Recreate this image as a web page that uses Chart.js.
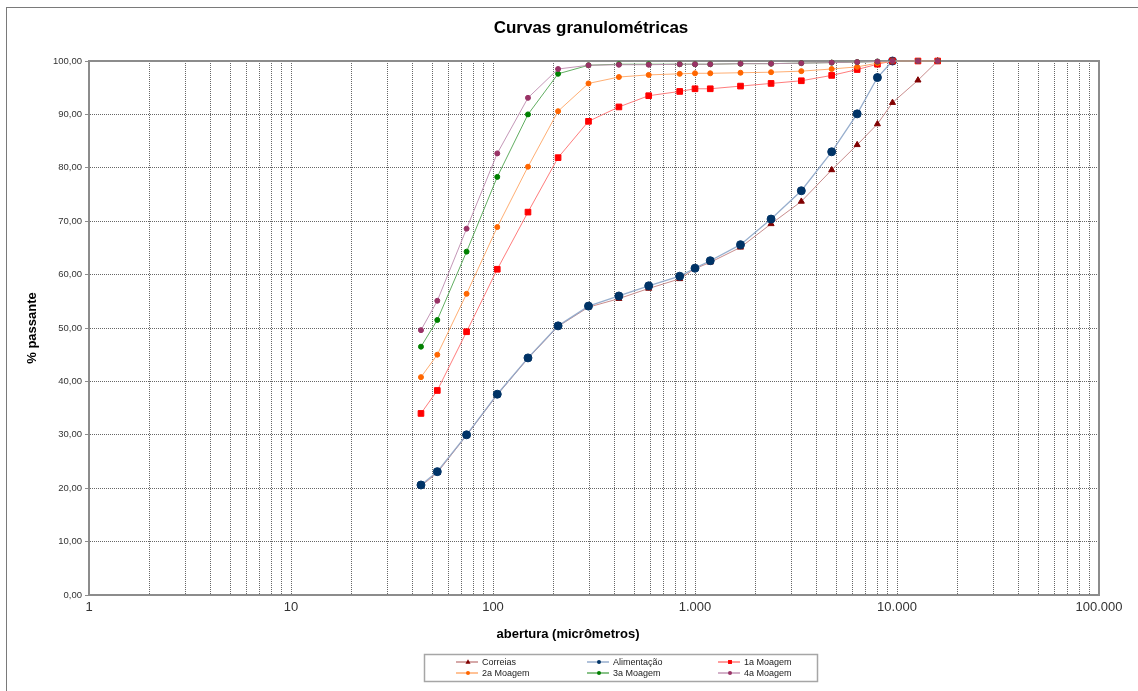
<!DOCTYPE html>
<html>
<head>
<meta charset="utf-8">
<script src="https://cdn.jsdelivr.net/npm/chart.js@4/dist/chart.umd.min.js"></script>
<style>
  html, body { margin: 0; padding: 0; background: #fff; }
  canvas { display: block; }
</style>
</head>
<body>
<canvas id="chart" width="1138" height="691"></canvas>
<script>
// aberturas das peneiras (micrômetros)
var aberturas = [44, 53, 74, 105, 149, 210, 297, 420, 590, 840, 1000, 1190, 1680, 2380, 3360, 4750, 6350, 8000, 9500, 12700, 15900];

// % passante de cada amostra
var correias    = [20.4, 22.9, 29.9, 37.5, 44.3, 50.3, 53.9, 55.5, 57.4, 59.2, 61.1, 62.3, 65.1, 69.5, 73.7, 79.6, 84.3, 88.2, 92.2, 96.4, 100.0];
var alimentacao = [20.6, 23.1, 30.0, 37.6, 44.4, 50.4, 54.1, 56.0, 57.9, 59.7, 61.2, 62.6, 65.6, 70.4, 75.7, 83.0, 90.1, 96.9, 100.0];
var moagem1     = [34.0, 38.3, 49.3, 61.0, 71.7, 81.9, 88.7, 91.4, 93.5, 94.3, 94.8, 94.8, 95.3, 95.8, 96.3, 97.3, 98.4, 99.4, 100.0, 100.0, 100.0];
var moagem2     = [40.8, 45.0, 56.4, 68.9, 80.2, 90.6, 95.8, 97.0, 97.4, 97.6, 97.7, 97.7, 97.8, 97.9, 98.1, 98.5, 98.9, 99.6, 100.0, 100.0, 100.0];
var moagem3     = [46.5, 51.5, 64.3, 78.3, 90.0, 97.6, 99.2, 99.4, 99.4, 99.4, 99.4, 99.4, 99.5, 99.5, 99.6, 99.7, 99.8, 99.9, 100.0, 100.0, 100.0];
var moagem4     = [49.6, 55.1, 68.6, 82.7, 93.1, 98.5, 99.2, 99.3, 99.3, 99.4, 99.4, 99.4, 99.5, 99.5, 99.6, 99.7, 99.8, 99.9, 100.0, 100.0, 100.0];

var xLabels = [1, 10, 100, 1000, 10000, 100000];

var FONT = '"Liberation Sans", Arial, sans-serif';
Chart.defaults.font.family = FONT;

function pontos(ys){
  var out = [];
  for(var i=0; i<ys.length; i++)
    out.push({x: aberturas[i], y: ys[i]});
  return out;
}

function milhar(v){
  return String(v).replace(/\B(?=(\d{3})+(?!\d))/g, '.');
}

function serie(label, ys, line, mark, style, r, order, lw){
  return {
    label: label,
    data: pontos(ys),
    borderColor: line,
    borderWidth: lw || 1,
    backgroundColor: mark,
    pointBackgroundColor: mark,
    pointBorderColor: mark,
    pointBorderWidth: 1,
    pointStyle: style,
    pointRadius: r,
    pointHoverRadius: r,
    tension: 0,
    clip: false,
    order: order
  };
}

var datasets = [
  serie('Correias', correias, 'rgba(190,120,120,0.85)', '#800000', 'triangle', 3.5, 6),
  serie('Alimentação', alimentacao, 'rgba(140,165,200,0.9)', '#003366', 'circle', 4, 5, 1.3),
  serie('1a Moagem', moagem1, 'rgba(255,110,110,0.9)', '#ff0000', 'rect', 4, 4),
  serie('2a Moagem', moagem2, 'rgba(255,165,100,0.9)', '#ff6600', 'circle', 2.5, 3),
  serie('3a Moagem', moagem3, 'rgba(80,165,80,0.9)', '#008000', 'circle', 2.5, 2),
  serie('4a Moagem', moagem4, 'rgba(190,140,175,0.9)', '#993366', 'circle', 2.5, 1)
];

function marcador(ctx, style, color, x, y, r){
  ctx.fillStyle = color;
  ctx.beginPath();
  if(style == 'rect'){
    ctx.rect(x - r*0.7, y - r*0.7, r*1.4, r*1.4);
  } else if(style == 'triangle'){
    ctx.moveTo(x, y - r);
    ctx.lineTo(x + r*0.9, y + r*0.6);
    ctx.lineTo(x - r*0.9, y + r*0.6);
    ctx.closePath();
  } else {
    ctx.arc(x, y, r, 0, Math.PI*2);
  }
  ctx.fill();
}

var moldura = {
  id: 'moldura',
  beforeDatasetsDraw: function(chart){
    var a = chart.chartArea, ctx = chart.ctx;
    ctx.save();
    ctx.strokeStyle = '#8c8c8c';
    ctx.lineWidth = 2;
    ctx.strokeRect(a.left, a.top, a.right - a.left, a.bottom - a.top);
    ctx.restore();
  },
  afterDraw: function(chart){
    var ctx = chart.ctx;
    ctx.save();
    // borda externa
    ctx.strokeStyle = '#7a7a7a';
    ctx.lineWidth = 1;
    ctx.strokeRect(6.5, 7.5, 1140, 700);

    // títulos
    ctx.fillStyle = '#000';
    ctx.textAlign = 'center';
    ctx.textBaseline = 'middle';
    ctx.font = 'bold 17px ' + FONT;
    ctx.fillText('Curvas granulométricas', 591, 28);
    ctx.font = 'bold 13px ' + FONT;
    ctx.fillText('abertura (micrômetros)', 568, 634);

    // legenda
    ctx.strokeStyle = '#a6a6a6';
    ctx.lineWidth = 1.5;
    ctx.strokeRect(424.5, 654.5, 393, 27);
    var cols = [456, 587, 718];
    var rows = [662, 673];
    ctx.font = '9px ' + FONT;
    ctx.textAlign = 'left';
    chart.data.datasets.forEach(function(ds, i){
      var x = cols[i % 3], y = rows[Math.floor(i / 3)];
      ctx.strokeStyle = ds.borderColor;
      ctx.lineWidth = 1.5;
      ctx.beginPath();
      ctx.moveTo(x, y);
      ctx.lineTo(x + 22, y);
      ctx.stroke();
      marcador(ctx, ds.pointStyle, ds.pointBackgroundColor, x + 12, y, ds.pointStyle == 'circle' ? 2 : 2.8);
      ctx.fillStyle = '#222';
      ctx.fillText(ds.label, x + 26, y + 0.5);
    });
    ctx.restore();
  }
};

var canvas = document.getElementById('chart');
var ctx = canvas.getContext('2d');

var chart = new Chart(ctx, {
  type: 'line',
  data: { datasets: datasets },
  plugins: [moldura],
  options: {
    responsive: false,
    animation: false,
    devicePixelRatio: 1,
    layout: { padding: { top: 61, right: 39, bottom: 40, left: 0 } },
    plugins: {
      legend: { display: false },
      title: { display: false },
      tooltip: { enabled: false }
    },
    scales: {
      x: {
        type: 'logarithmic',
        min: 1,
        max: 100000,
        afterBuildTicks: function(scale){
          var t = [];
          for(var e=0; e<5; e++)
            for(var m=1; m<10; m++)
              t.push({value: m * Math.pow(10, e)});
          t.push({value: 100000});
          scale.ticks = t;
        },
        afterFit: function(scale){ scale.height = 56; },
        ticks: {
          autoSkip: false,
          maxRotation: 0,
          padding: 5,
          color: '#333',
          font: { size: 13 },
          callback: function(value){
            return xLabels.indexOf(value) >= 0 ? milhar(value) : '';
          }
        },
        grid: { color: 'rgba(0,0,0,0.6)', drawTicks: false },
        border: { color: '#8c8c8c', width: 2, dash: [1, 1] }
      },
      y: {
        min: 0,
        max: 100,
        afterFit: function(scale){ scale.width = 89; },
        ticks: {
          stepSize: 10,
          padding: 3,
          color: '#333',
          font: { size: 9.5 },
          callback: function(v){ return v.toFixed(2).replace('.', ','); }
        },
        grid: { color: 'rgba(0,0,0,0.6)', tickLength: 4, tickColor: '#8c8c8c', tickBorderDash: [] },
        border: { color: '#8c8c8c', width: 2, dash: [1, 1] },
        title: {
          display: true,
          text: '% passante',
          color: '#000',
          font: { size: 13, weight: 'bold' },
          padding: { top: 25, bottom: 0 }
        }
      }
    }
  }
});
</script>
</body>
</html>
